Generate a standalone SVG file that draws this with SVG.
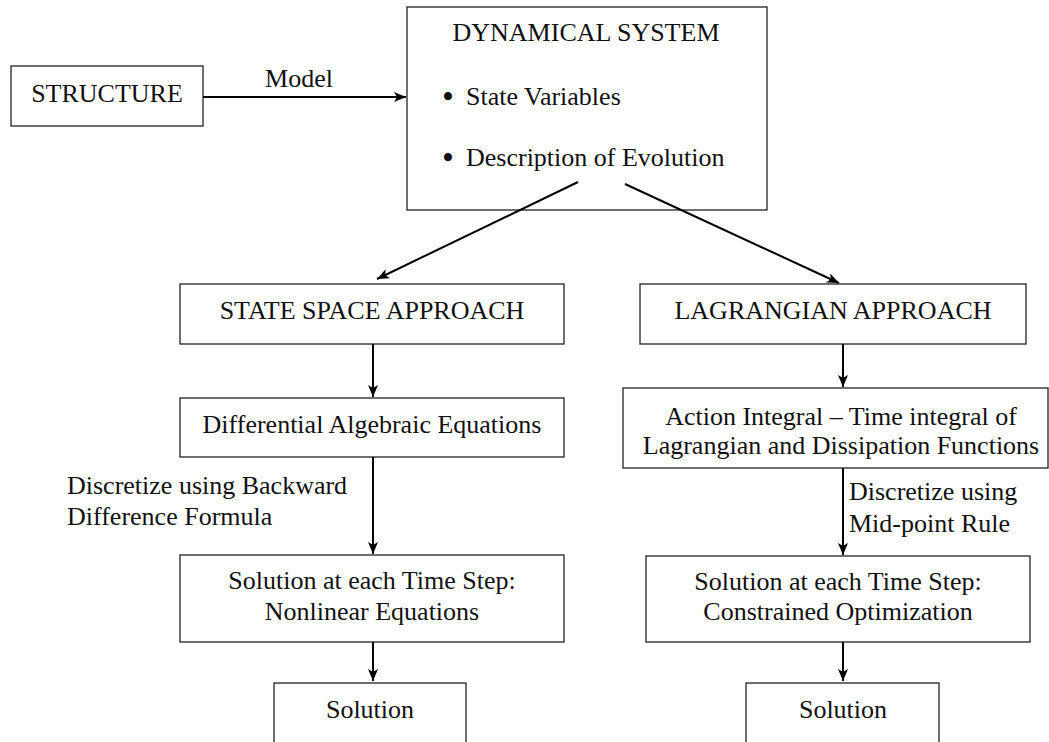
<svg xmlns="http://www.w3.org/2000/svg" width="1049" height="742" viewBox="0 0 1049 742">
<style>
.box{fill:#fff;stroke:#222;stroke-width:1.3}
.t{font-family:"Liberation Serif","Times New Roman",serif;font-size:26px;fill:#111}
.c{text-anchor:middle}
.b{font-family:"Liberation Serif","Times New Roman",serif;font-size:34px;fill:#111;text-anchor:middle}
.edge{stroke:#000;stroke-width:2;fill:none;marker-end:url(#ah)}
</style>
<defs>
<marker id="ah" markerUnits="userSpaceOnUse" viewBox="0 0 12 10" markerWidth="12" markerHeight="10" refX="12" refY="5" orient="auto">
<path d="M0,0 L12,5 L0,10 L3,5 z" fill="#000"/>
</marker>
</defs>
<rect width="1049" height="742" fill="#fff"/>
<g id="structure">
<rect class="box" x="11" y="66" width="192" height="60"/>
<text class="t c" x="107" y="102">STRUCTURE</text>
</g>
<g id="dynamical-system">
<rect class="box" x="407" y="7" width="360" height="203"/>
<text class="t c" x="586" y="41">DYNAMICAL SYSTEM</text>
<text class="b" x="448" y="108">•</text>
<text class="t" x="466" y="105">State Variables</text>
<text class="b" x="448" y="169">•</text>
<text class="t" x="466" y="166">Description of Evolution</text>
</g>
<g id="state-space">
<rect class="box" x="180" y="284" width="384" height="60"/>
<text class="t c" x="372" y="319">STATE SPACE APPROACH</text>
</g>
<g id="dae">
<rect class="box" x="180" y="398" width="384" height="59"/>
<text class="t c" x="372" y="433">Differential Algebraic Equations</text>
</g>
<g id="left-step">
<rect class="box" x="180" y="555" width="384" height="87"/>
<text class="t c" x="372" y="589">Solution at each Time Step:</text>
<text class="t c" x="372" y="620">Nonlinear Equations</text>
</g>
<g id="left-solution">
<rect class="box" x="274" y="683" width="192" height="80"/>
<text class="t c" x="370" y="718">Solution</text>
</g>
<g id="lagrangian">
<rect class="box" x="640" y="284" width="386" height="60"/>
<text class="t c" x="833" y="319">LAGRANGIAN APPROACH</text>
</g>
<g id="action-integral">
<rect class="box" x="623" y="388" width="425" height="80"/>
<text class="t c" x="841" y="425">Action Integral – Time integral of</text>
<text class="t c" x="841" y="454">Lagrangian and Dissipation Functions</text>
</g>
<g id="right-step">
<rect class="box" x="646" y="556" width="384" height="86"/>
<text class="t c" x="838" y="590">Solution at each Time Step:</text>
<text class="t c" x="838" y="620">Constrained Optimization</text>
</g>
<g id="right-solution">
<rect class="box" x="746" y="683" width="193" height="80"/>
<text class="t c" x="843" y="718">Solution</text>
</g>
<g id="connectors">
<line class="edge" x1="203" y1="97" x2="406" y2="97"/>
<text class="t c" x="299" y="87">Model</text>
<line class="edge" x1="578" y1="182" x2="377" y2="279"/>
<line class="edge" x1="625" y1="184" x2="839" y2="283"/>
<line class="edge" x1="373" y1="344" x2="373" y2="397"/>
<line class="edge" x1="373" y1="457" x2="373" y2="554"/>
<text class="t" x="67" y="494">Discretize using Backward</text>
<text class="t" x="67" y="525">Difference Formula</text>
<line class="edge" x1="373" y1="642" x2="373" y2="681"/>
<line class="edge" x1="843" y1="344" x2="843" y2="387"/>
<line class="edge" x1="843" y1="468" x2="843" y2="555"/>
<text class="t" x="849" y="500">Discretize using</text>
<text class="t" x="849" y="532">Mid-point Rule</text>
<line class="edge" x1="843" y1="642" x2="843" y2="681"/>
</g>
</svg>
